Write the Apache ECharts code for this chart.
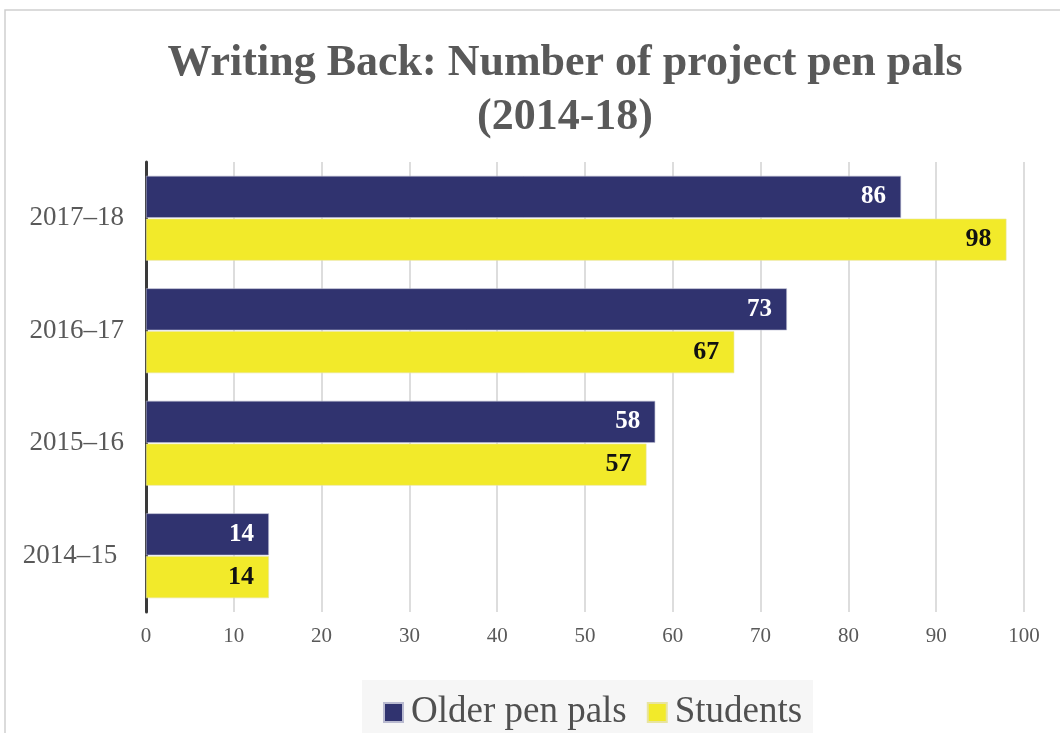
<!DOCTYPE html>
<html><head><meta charset="utf-8">
<script src="https://cdn.jsdelivr.net/npm/echarts@6/dist/echarts.min.js"></script>
<style>html,body{margin:0;padding:0;background:#fff}#c{width:1060px;height:733px}</style>
</head><body><div id="c"></div>
<script>
const categories = ['2017–18', '2016–17', '2015–16', '2014–15'];
const olderPenPals = [86, 73, 58, 14];
const students = [98, 67, 57, 14];
const xTicks = [0, 10, 20, 30, 40, 50, 60, 70, 80, 90, 100];
const titleText = 'Writing Back: Number of project pen pals\n(2014-18)';

const serif = '"Liberation Serif", "DejaVu Serif", serif';
const chart = echarts.init(document.getElementById('c'));
chart.setOption({
  animation: false,
  backgroundColor: '#fff',
  graphic: [{
    type: 'rect', silent: true, z: -10,
    shape: { x: 5, y: 10, width: 1200, height: 900 },
    style: { fill: 'none', stroke: '#cfcfcf', lineWidth: 1.5 }
  }, {
    type: 'rect', silent: true, z: -9,
    shape: { x: 362, y: 680, width: 451, height: 60 },
    style: { fill: '#f6f6f6' }
  }, {
    type: 'text', silent: true, x: 565, y: 37,
    style: {
      text: titleText, align: 'center', verticalAlign: 'top',
      font: 'bold 44px ' + serif, lineHeight: 54, fill: '#595959'
    }
  }],
  grid: { left: 146, right: 36, top: 162, bottom: 121, containLabel: false },
  legend: {
    top: 689, left: 378,
    itemWidth: 19, itemHeight: 19, itemGap: 20,
    icon: 'rect',
    textStyle: { fontFamily: serif, fontSize: 37, color: '#505050', padding: [0, 0, 0, 3] },
    data: ['Older pen pals', 'Students']
  },
  xAxis: {
    type: 'value', min: 0, max: 100, interval: 10,
    axisLine: { show: false }, axisTick: { show: false },
    axisLabel: { fontFamily: serif, fontSize: 21, color: '#595959', margin: 14,
      formatter: v => xTicks.includes(v) ? String(v) : '' },
    splitLine: { lineStyle: { color: '#d2d2d2', width: 1.5 } }
  },
  yAxis: {
    type: 'category', data: categories, inverse: true,
    axisLine: { lineStyle: { color: '#3a3a3a', width: 3 } },
    axisTick: { show: false },
    axisLabel: { fontFamily: serif, fontSize: 27, color: '#595959', margin: 22,
      formatter: (v, i) => i === categories.length - 1 ? v + '\u00a0' : v }
  },
  series: [{
    name: 'Older pen pals', type: 'bar', data: olderPenPals,
    barWidth: 42, barGap: '2%',
    itemStyle: { color: '#30336f', borderColor: '#b9bad0', borderWidth: 0.6 },
    label: { show: true, position: 'insideRight', distance: 15,
      fontFamily: serif, fontWeight: 'bold', fontSize: 25, color: '#fff' }
  }, {
    name: 'Students', type: 'bar', data: students,
    barWidth: 42,
    itemStyle: { color: '#f2ea2a', borderColor: '#e8e4a0', borderWidth: 0.6 },
    label: { show: true, position: 'insideRight', distance: 15,
      fontFamily: serif, fontWeight: 'bold', fontSize: 26, color: '#111' }
  }]
});
</script></body></html>
